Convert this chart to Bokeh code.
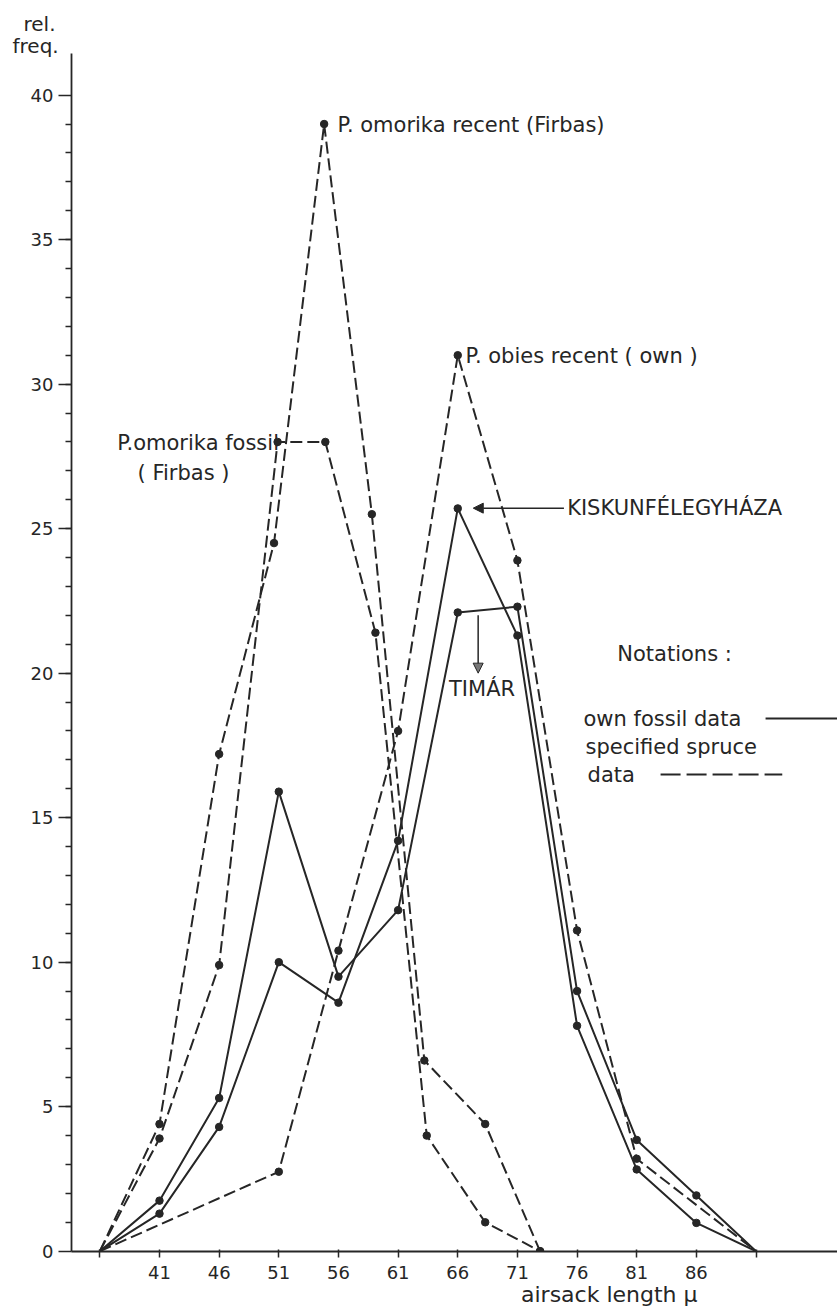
from bokeh.plotting import figure
from bokeh.models import FixedTicker, Label, Arrow, NormalHead, Range1d, LinearAxis, Title
from bokeh.embed import file_html
from bokeh.resources import INLINE

# ---------------- data ----------------
# specified spruce data (dashed)
omorika_recent_x = [36, 41, 46, 50.6, 54.8, 58.8, 63.2, 68.3, 72.9]
omorika_recent_y = [0, 4.4, 17.2, 24.5, 39.0, 25.5, 6.6, 4.4, 0]
omorika_fossil_x = [36, 41, 46, 50.9, 54.9, 59.1, 63.4, 68.3, 72.9]
omorika_fossil_y = [0, 3.9, 9.9, 28.0, 28.0, 21.4, 4.0, 1.0, 0]
abies_recent_x = [36, 51, 56, 61, 66, 71, 76, 81, 91]
abies_recent_y = [0, 2.75, 10.4, 18.0, 31.0, 23.9, 11.1, 3.2, 0]
# own fossil data (solid)
own_x = [36, 41, 46, 51, 56, 61, 66, 71, 76, 81, 86, 91]
timar_y = [0, 1.75, 5.3, 15.9, 9.5, 11.8, 22.1, 22.3, 9.0, 3.85, 1.93, 0]
kiskun_y = [0, 1.3, 4.3, 10.0, 8.6, 14.2, 25.7, 21.3, 7.8, 2.83, 0.98, 0]

x_ticks = [36, 41, 46, 51, 56, 61, 66, 71, 76, 81, 86, 91]
x_tick_labels = {36: "", 41: "41", 46: "46", 51: "51", 56: "56", 61: "61",
                 66: "66", 71: "71", 76: "76", 81: "81", 86: "86", 91: ""}
y_ticks = [0, 5, 10, 15, 20, 25, 30, 35, 40]
y_minor = list(range(1, 40))
x_title_pos = 78.7
x_title = "airsack length \u03bc"

INK = "#262626"
FONT = "DejaVu Sans"
FS = "21px"
TICK_FS = "18px"
DASH = "12 5"

p = figure(width=837, height=1310,
           x_range=Range1d(33.624, 97.83), y_range=Range1d(-0.01, 41.44),
           output_backend="svg", toolbar_location=None, title_location=None,
           min_border_left=71, min_border_right=0, min_border_top=53, min_border_bottom=59)
p.grid.visible = False
p.outline_line_color = None
p.background_fill_color = "white"
p.border_fill_color = "white"

# axes
xa = p.xaxis[0]
xa.bounds = (32.7, 97.83)
xa.ticker = FixedTicker(ticks=x_ticks)
xa.major_label_overrides = x_tick_labels
xa.major_tick_out = 6
xa.major_tick_in = 2
xa.minor_tick_line_color = None
xa.axis_line_width = 1.8
xa.axis_line_color = INK
xa.major_tick_line_color = INK
xa.major_tick_line_width = 1.5
xa.major_label_standoff = 8
xa.major_label_text_font = FONT
xa.major_label_text_font_size = TICK_FS
xa.major_label_text_color = INK

ya = p.yaxis[0]
ya.bounds = (-0.6, 41.44)
ya.ticker = FixedTicker(ticks=y_ticks, minor_ticks=y_minor)
ya.major_tick_out = 13
ya.major_tick_in = 0
ya.minor_tick_out = 6
ya.minor_tick_in = 0
ya.axis_line_width = 1.8
ya.axis_line_color = INK
ya.major_tick_line_color = INK
ya.minor_tick_line_color = INK
ya.major_tick_line_width = 1.5
ya.minor_tick_line_width = 1.3
ya.major_label_standoff = 5
ya.major_label_text_font = FONT
ya.major_label_text_font_size = TICK_FS
ya.major_label_text_color = INK

# axis title (second, line-less axis below the main one)
xt = LinearAxis(ticker=FixedTicker(ticks=[x_title_pos]),
                major_label_overrides={x_title_pos: x_title},
                axis_line_color=None, major_tick_line_color=None, minor_tick_line_color=None,
                major_tick_out=0, major_tick_in=0, major_label_standoff=0,
                major_label_text_font=FONT, major_label_text_font_size="22px",
                major_label_text_color=INK)
p.add_layout(xt, "below")

# y-axis title at top left
p.add_layout(Title(text="freq.", align="left", offset=-59, standoff=-8,
                   text_font=FONT, text_font_size="20px", text_font_style="normal",
                   text_color=INK), "above")
p.add_layout(Title(text="rel.", align="left", offset=-48, standoff=0,
                   text_font=FONT, text_font_size="20px", text_font_style="normal",
                   text_color=INK), "above")

# dashed series
for xs, ys in [(omorika_recent_x, omorika_recent_y),
               (omorika_fossil_x, omorika_fossil_y),
               (abies_recent_x, abies_recent_y)]:
    p.line(xs, ys, line_color=INK, line_width=2, line_dash=DASH)
p.scatter(omorika_recent_x[1:], omorika_recent_y[1:], size=7.5, color=INK)
p.scatter(omorika_fossil_x[1:], omorika_fossil_y[1:], size=7.5, color=INK)
p.scatter(abies_recent_x[1:-1], abies_recent_y[1:-1], size=7.5, color=INK)

# solid series
for ys in [timar_y, kiskun_y]:
    p.line(own_x, ys, line_color=INK, line_width=2)
    p.scatter(own_x[1:-1], ys[1:-1], size=7.5, color=INK)

def lab(x, y, t, align="left", size=FS):
    p.add_layout(Label(x=x, y=y, text=t, text_font=FONT, text_font_size=size,
                       text_color=INK, text_align=align, text_baseline="middle"))

lab(55.92, 38.95, "P. omorika recent (Firbas)")
lab(66.65, 30.99, "P. obies recent ( own )")
lab(37.45, 27.96, "P.omorika fossil")
lab(39.16, 26.92, "( Firbas )")
lab(75.17, 25.71, "KISKUNFÉLEGYHÁZA")
lab(68.04, 19.44, "TIMÁR", "center")
lab(79.37, 20.68, "Notations :")
lab(76.54, 18.43, "own fossil data")
lab(76.71, 17.43, "specified spruce")
lab(76.88, 16.49, "data")

# arrows
p.add_layout(Arrow(end=NormalHead(size=10, fill_color=INK, line_color=INK),
                   x_start=74.9, y_start=25.71, x_end=67.3, y_end=25.71,
                   line_color=INK, line_width=1.5))
p.add_layout(Arrow(end=NormalHead(size=10, fill_color="#777777", line_color=INK),
                   x_start=67.71, y_start=22.0, x_end=67.71, y_end=20.0,
                   line_color=INK, line_width=1.5))
# notation samples
p.add_layout(Arrow(end=None, x_start=91.8, y_start=18.43, x_end=97.83, y_end=18.43,
                   line_color=INK, line_width=2))
p.add_layout(Arrow(end=None, x_start=83.0, y_start=16.49, x_end=93.2, y_end=16.49,
                   line_color=INK, line_width=2, line_dash="20 6"))

open("out.html", "w").write(file_html(p, INLINE))
